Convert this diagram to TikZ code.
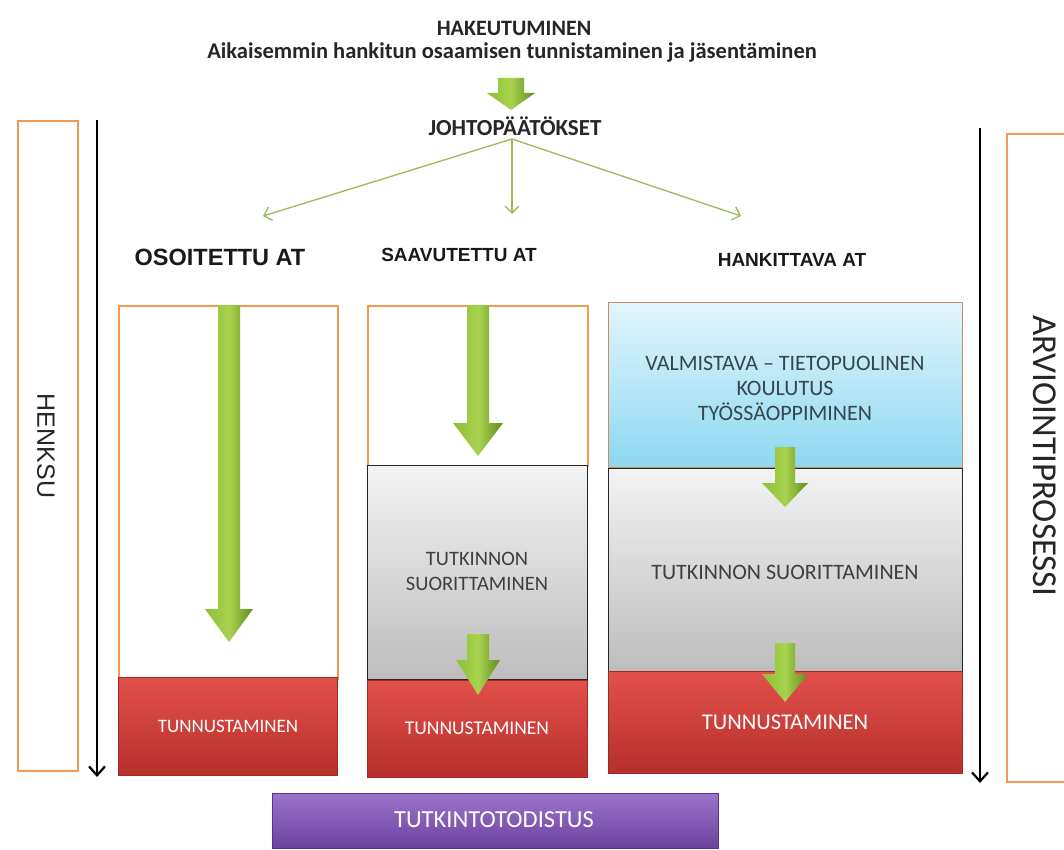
\documentclass[tikz,border=0pt]{standalone}
\usepackage{fontspec}
\setmainfont{Carlito}
\newfontfamily\arialfont{Liberation Sans}
\usetikzlibrary{arrows.meta}

\definecolor{frameorange}{HTML}{F39A52}
\definecolor{leafgreen}{HTML}{9BBB59}
\definecolor{arrowlight}{HTML}{A9D34F}
\definecolor{arrowmid}{HTML}{8CBF35}
\definecolor{arrowdark}{HTML}{5E8C1C}
\definecolor{redtop}{HTML}{E2504B}
\definecolor{redbot}{HTML}{B72F2B}
\definecolor{redline}{HTML}{9E2A26}
\definecolor{greytop}{HTML}{F3F3F3}
\definecolor{greybot}{HTML}{BDBDBD}
\definecolor{bluetop}{HTML}{E2F5FC}
\definecolor{bluebot}{HTML}{8DD8F1}
\definecolor{purpletop}{HTML}{9C74CC}
\definecolor{purplebot}{HTML}{6B429F}
\definecolor{bodytext}{HTML}{3F3F3F}
\definecolor{slatetext}{HTML}{34474F}

% block arrow: x, top y, tip y, shaft half width, head half width, head length
\newcommand\blockarrow[6]{%
  \pgfmathsetmacro\bax{#1}%
  \pgfmathsetmacro\baneck{#3-#6}%
  \shade[left color=arrowmid, right color=arrowdark, middle color=arrowlight]
    ({\bax-#4},#2) -- ({\bax+#4},#2) -- ({\bax+#4},\baneck) -- ({\bax+#5},\baneck)
    -- (\bax,#3) -- ({\bax-#5},\baneck) -- ({\bax-#4},\baneck) -- cycle;
}

\tikzset{
  orangebox/.style={draw=frameorange, line width=1.8pt, anchor=north west, inner sep=0pt},
  redbox/.style={top color=redtop, bottom color=redbot, draw=redline, line width=0.6pt,
    anchor=north west, inner sep=0pt},
  greybox/.style={top color=greytop, bottom color=greybot, draw=black!85, line width=1pt,
    anchor=north west, inner sep=0pt},
  bluebox/.style={top color=bluetop, bottom color=bluebot, draw=frameorange!60!gray, line width=0.8pt,
    anchor=north west, inner sep=0pt},
  purplebox/.style={top color=purpletop, bottom color=purplebot, draw=purplebot!80!black, line width=0.6pt,
    anchor=north west, inner sep=0pt},
  redlabel/.style={text=white},
  greylabel/.style={text=bodytext, align=center},
  heading/.style={font=\bfseries\fontsize{22}{24}\selectfont, text=black!85},
  colhead/.style={font=\arialfont\bfseries\fontsize{19}{22}\selectfont, text=black!90},
  branch/.style={draw=leafgreen, line width=1.3pt, -{Straight Barb[length=7pt,width=14pt]}},
  timeline/.style={draw=black, line width=2.2pt, -{Straight Barb[length=9pt,width=16pt]}},
}

\begin{document}
\begin{tikzpicture}[x=1pt,y=-1pt]
\useasboundingbox (0,0) rectangle (1064,850);
\fill[white] (0,0) rectangle (1064,850);

% title lines
\node[heading] (hak) at (514,28) {HAKEUTUMINEN};
\node[heading, font=\bfseries\fontsize{22.5}{25}\selectfont] (aik) at (512,53) {Aikaisemmin hankitun osaamisen tunnistaminen ja jäsentäminen};
\blockarrow{511}{78}{110}{13}{24}{17}
\node[heading, font=\bfseries\fontsize{23}{25}\selectfont] (joh) at (515,126) {JOHTOPÄÄTÖKSET};

% branches to the three paths
\coordinate (b1) at (263,216);
\coordinate (b2) at (512,214);
\coordinate (b3) at (741,216);
\coordinate (bs) at (512,139);
\draw[branch] (bs) -- (b1);
\draw[branch] (bs) -- (b2);
\draw[branch] (bs) -- (b3);

% column headings
\node[colhead, font=\arialfont\bfseries\fontsize{23.5}{26}\selectfont] (h1) at (220,257) {OSOITETTU AT};
\node[colhead] (h2) at (459,255) {SAAVUTETTU AT};
\node[colhead] (h3) at (792,260) {HANKITTAVA AT};

% side frames
\node[orangebox, minimum width=60pt, minimum height=650pt] (henksu) at (17,120) {};
\node[rotate=-90, font=\arialfont\fontsize{25}{28}\selectfont, text=black!85] (henksut) at (46,446) {HENKSU};
\node[orangebox, minimum width=80pt, minimum height=648pt] (arvio) at (1006,133) {};
\node[rotate=-90, font=\fontsize{35}{38}\selectfont, text=black!85] (arviot) at (1045,456) {ARVIOINTIPROSESSI};

% time lines
\coordinate (l1) at (97,120);
\coordinate (l2) at (97,777);
\coordinate (r1) at (980,128);
\coordinate (r2) at (980,783);
\draw[timeline] (l1) -- (l2);
\draw[timeline] (r1) -- (r2);

% column 1
\node[orangebox, minimum width=219pt, minimum height=373pt] (c1top) at (118,305) {};
\node[redbox, minimum width=219pt, minimum height=98pt] (c1red) at (118,677) {};
\node[redlabel, font=\fontsize{19}{21}\selectfont] (c1redt) at (228,726) {TUNNUSTAMINEN};
\blockarrow{229}{305}{642}{11}{24}{33}

% column 2
\node[orangebox, minimum width=220pt, minimum height=160pt] (c2top) at (367,305) {};
\node[greybox, minimum width=220pt, minimum height=214pt] (c2grey) at (367,465) {};
\node[greylabel, font=\fontsize{20.5}{25}\selectfont] (c2greyt) at (477,571) {TUTKINNON\\SUORITTAMINEN};
\node[redbox, minimum width=220pt, minimum height=97pt] (c2red) at (367,680) {};
\node[redlabel, font=\fontsize{19.5}{22}\selectfont] (c2redt) at (477,728) {TUNNUSTAMINEN};
\blockarrow{478}{305}{456}{11}{25}{33}
\blockarrow{478}{634}{695}{11}{22}{35}

% column 3
\node[bluebox, minimum width=354pt, minimum height=165pt] (c3blue) at (608,302) {};
\node[text=slatetext, align=center, font=\fontsize{22}{25}\selectfont] (c3bluet) at (785,388) {VALMISTAVA – TIETOPUOLINEN\\KOULUTUS\\TYÖSSÄOPPIMINEN};
\node[greybox, minimum width=354pt, minimum height=203pt] (c3grey) at (608,468) {};
\node[greylabel, font=\fontsize{22}{25}\selectfont] (c3greyt) at (785,572) {TUTKINNON SUORITTAMINEN};
\node[redbox, minimum width=354pt, minimum height=102pt] (c3red) at (608,671) {};
\node[redlabel, font=\fontsize{22.5}{25}\selectfont] (c3redt) at (785,722) {TUNNUSTAMINEN};
\blockarrow{785}{447}{507}{10}{23}{24}
\blockarrow{785}{643}{702}{10}{23}{28}

% certificate
\node[purplebox, minimum width=446pt, minimum height=55pt] (cert) at (272,793) {};
\node[text=white, font=\fontsize{24.5}{27}\selectfont] (certt) at (494,820) {TUTKINTOTODISTUS};
\end{tikzpicture}
\end{document}
